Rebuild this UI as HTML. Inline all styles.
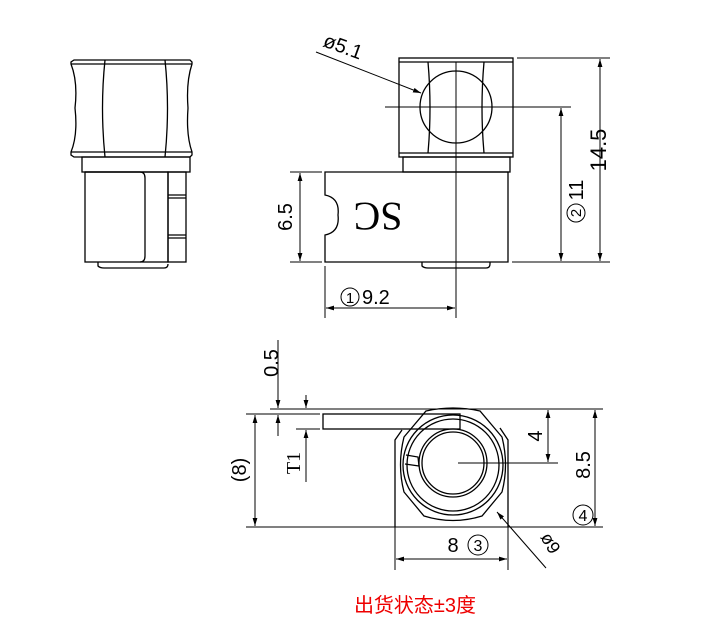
<!DOCTYPE html>
<html><head><meta charset="utf-8"><style>
html,body{margin:0;padding:0;background:#fff}
svg{display:block}
text{font-family:"Liberation Sans",sans-serif;fill:#000}
</style></head><body>
<svg width="720" height="637" viewBox="0 0 720 637" xmlns="http://www.w3.org/2000/svg">
<defs>
<marker id="a" viewBox="0 0 10 6" refX="10" refY="3" markerWidth="8" markerHeight="5" orient="auto-start-reverse"><path d="M0,0L10,3L0,6z" fill="#000"/></marker>
</defs>
<g fill="none" stroke="#000" stroke-width="1.3">
<!-- Left view -->
<path d="M74,60 H190 L192,62 V64 Q186,82 188,108 Q186,135 192,152 V155 L190,157 H74 L71,155 V152 Q78,135 75,108 Q78,82 71,64 V62 Z"/>
<line x1="71" y1="64" x2="192" y2="64"/>
<line x1="71" y1="152" x2="192" y2="152"/>
<path d="M105,60 Q100,108 105,157 M165,60 Q170,108 165,157"/>
<rect x="82" y="157" width="108" height="15"/>
<rect x="85" y="172" width="83" height="90"/>
<path d="M85,172 H140 Q145,172 145,178 V256 Q145,262 140,262"/>
<rect x="168" y="172" width="18" height="90"/>
<line x1="168" y1="195" x2="186" y2="195"/><line x1="168" y1="198" x2="186" y2="198"/>
<line x1="168" y1="235" x2="186" y2="235"/><line x1="168" y1="238" x2="186" y2="238"/>
<path d="M98,262 V266 Q100,268 104,268 H164 Q168,268 168,264"/>
<!-- Right view -->
<rect x="399" y="58" width="114" height="99"/>
<line x1="399" y1="62" x2="513" y2="62"/><line x1="399" y1="153" x2="513" y2="153"/>
<path d="M428,62 Q432,108 428,153 M484,62 Q480,108 484,153"/>
<circle cx="456" cy="107" r="36"/>
<rect x="403" y="157" width="107" height="15"/>
<path d="M325,172 H508 V262 H325 V235 Q340,232 338,215 Q340,198 325,195 Z"/>
<path d="M422,262 V266 Q424,268 428,268 H486 Q490,268 490,264 V262"/>
<line x1="456" y1="62" x2="456" y2="318" stroke-width="1"/>
<line x1="385" y1="107" x2="571" y2="107" stroke-width="1"/>
<!-- dims right view -->
<line x1="290" y1="172" x2="322" y2="172" stroke-width="1"/>
<line x1="290" y1="262" x2="322" y2="262" stroke-width="1"/>
<line x1="300" y1="173" x2="300" y2="261" stroke-width="1" marker-start="url(#a)" marker-end="url(#a)"/>
<line x1="325" y1="266" x2="325" y2="318" stroke-width="1"/>
<line x1="326" y1="308" x2="455" y2="308" stroke-width="1" marker-start="url(#a)" marker-end="url(#a)"/>
<line x1="512" y1="262" x2="610" y2="262" stroke-width="1"/>
<line x1="517" y1="58" x2="610" y2="58" stroke-width="1"/>
<line x1="561" y1="108" x2="561" y2="261" stroke-width="1" marker-start="url(#a)" marker-end="url(#a)"/>
<line x1="600" y1="59" x2="600" y2="261" stroke-width="1" marker-start="url(#a)" marker-end="url(#a)"/>
<line x1="316" y1="52" x2="421" y2="93" stroke-width="1" marker-end="url(#a)"/>
<!-- bottom view -->
<line x1="270" y1="409" x2="603" y2="409" stroke-width="1"/>
<line x1="246" y1="414" x2="320" y2="414" stroke-width="1"/>
<line x1="296" y1="429" x2="320" y2="429" stroke-width="1"/>
<rect x="323" y="414" width="137" height="15"/>
<line x1="246" y1="527" x2="603" y2="527" stroke-width="1"/>
<path d="M395,527 V440 L402,430 M508,527 V440 L500,428"/>
<line x1="395" y1="527" x2="395" y2="570" stroke-width="1"/>
<line x1="508" y1="527" x2="508" y2="570" stroke-width="1"/>
<path d="M404,437 L426,411 Q453,405 480,411 L502,437 Q509,465 502,492 L482,516 Q453,525 424,516 L404,492 Q397,465 404,437 Z"/>
<circle cx="453" cy="465" r="50"/>
<circle cx="453" cy="465" r="46"/>
<circle cx="453" cy="463" r="34"/>
<circle cx="453" cy="463" r="31"/>
<path d="M406,455 L418,457 L419,466 L405,464"/>
<line x1="458" y1="463" x2="558" y2="463" stroke-width="1"/>
<line x1="548" y1="410" x2="548" y2="462" stroke-width="1" marker-start="url(#a)" marker-end="url(#a)"/>
<line x1="595" y1="410" x2="595" y2="526" stroke-width="1" marker-start="url(#a)" marker-end="url(#a)"/>
<line x1="255" y1="415" x2="255" y2="526" stroke-width="1" marker-start="url(#a)" marker-end="url(#a)"/>
<line x1="278" y1="340" x2="278" y2="408" stroke-width="1" marker-end="url(#a)"/>
<line x1="278" y1="436" x2="278" y2="415" stroke-width="1" marker-end="url(#a)"/>
<line x1="306" y1="395" x2="306" y2="408" stroke-width="1" marker-end="url(#a)"/>
<line x1="306" y1="482" x2="306" y2="430" stroke-width="1" marker-end="url(#a)"/>
<line x1="396" y1="559" x2="507" y2="559" stroke-width="1" marker-start="url(#a)" marker-end="url(#a)"/>
<line x1="546" y1="568" x2="497" y2="512" stroke-width="1" marker-end="url(#a)"/>
<circle cx="576" cy="213" r="9" stroke-width="1"/>
<circle cx="350" cy="297" r="9" stroke-width="1"/>
<circle cx="478" cy="545" r="10" stroke-width="1"/>
<circle cx="583" cy="515" r="10" stroke-width="1"/>
</g>
<!-- texts -->
<text x="0" y="0" font-size="40" text-anchor="middle" transform="translate(378,203) rotate(180)" style="font-family:'Liberation Serif',serif">SC</text>
<text x="0" y="0" font-size="20" text-anchor="middle" transform="translate(292,217) rotate(-90)">6.5</text>
<text x="362" y="304" font-size="20">9.2</text>
<text x="350" y="303" font-size="15" text-anchor="middle">1</text>
<text x="0" y="0" font-size="15" text-anchor="middle" transform="translate(581,213) rotate(-90)">2</text>
<text x="0" y="0" font-size="20" text-anchor="middle" transform="translate(583,190) rotate(-90)">11</text>
<text x="0" y="0" font-size="22" text-anchor="middle" transform="translate(606,150) rotate(-90)">14.5</text>
<text x="0" y="0" font-size="20" transform="translate(322,46) rotate(20)">ø5.1</text>
<text x="0" y="0" font-size="20" text-anchor="middle" transform="translate(278,363) rotate(-90)">0.5</text>
<text x="0" y="0" font-size="20" text-anchor="middle" transform="translate(300,463) rotate(-90)" style="font-family:'Liberation Serif',serif">T1</text>
<text x="0" y="0" font-size="20" text-anchor="middle" transform="translate(246,470) rotate(-90)">(8)</text>
<text x="0" y="0" font-size="20" text-anchor="middle" transform="translate(542,436) rotate(-90)">4</text>
<text x="0" y="0" font-size="20" text-anchor="middle" transform="translate(590,465) rotate(-90)">8.5</text>
<text x="583" y="521" font-size="16" text-anchor="middle">4</text>
<text x="453" y="552" font-size="20" text-anchor="middle">8</text>
<text x="478" y="551" font-size="16" text-anchor="middle">3</text>
<text x="0" y="0" font-size="18" transform="translate(540,537) rotate(60)">ø9</text>
<text x="415" y="612" font-size="20" text-anchor="middle" style="fill:#e00;font-family:'Liberation Sans','Noto Sans CJK SC',sans-serif">出货状态±3度</text>
</svg>
</body></html>
